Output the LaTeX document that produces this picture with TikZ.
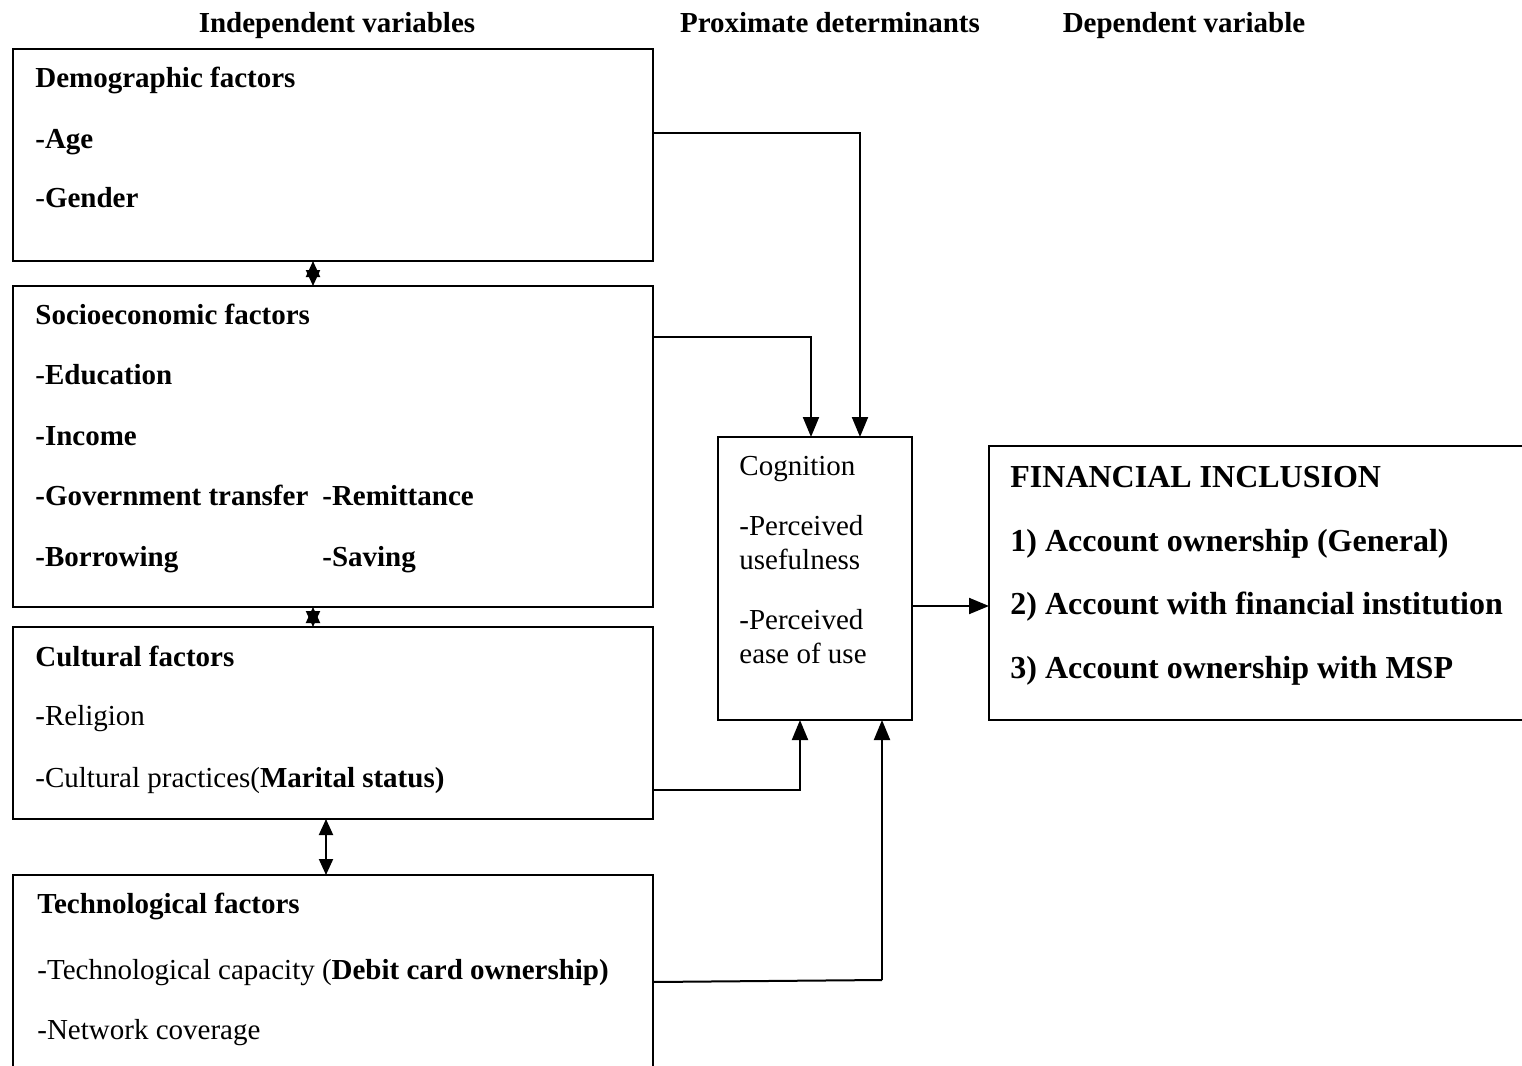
\documentclass[tikz,border=0pt]{standalone}
\usepackage{fontspec}
\setmainfont{Liberation Serif}
\usetikzlibrary{arrows.meta}
\begin{document}
\begin{tikzpicture}[x=0.5pt,y=-0.5pt,
  box/.style={draw, line width=1pt, inner sep=0pt, outer sep=0pt, anchor=north west},
  openbox/.style={inner sep=0pt, outer sep=0pt, anchor=north west},
  txt/.style={anchor=base west, inner sep=0pt, font=\fontsize{14.5}{17}\selectfont},
  bigtxt/.style={anchor=base west, inner sep=0pt, font=\fontsize{16}{19}\selectfont\bfseries},
  hdr/.style={anchor=base, inner sep=0pt, font=\fontsize{14.5}{17}\selectfont\bfseries},
  arr/.style={line width=1pt, -{Triangle[length=10pt,width=8pt]}},
  dbl/.style={line width=1pt, {Triangle[length=8pt,width=7pt]}-{Triangle[length=8pt,width=7pt]}}
]
\useasboundingbox (0,0) rectangle (1522,1066);
% headers
\node[hdr] (h1) at (337,32) {Independent variables};
\node[hdr] (h2) at (830,32) {Proximate determinants};
\node[hdr] (h3) at (1184,32) {Dependent variable};
% boxes
\node[box, minimum width=320pt, minimum height=106pt] (demo) at (13,49) {};
\node[box, minimum width=320pt, minimum height=160.5pt] (socio) at (13,286) {};
\node[box, minimum width=320pt, minimum height=96pt] (cult) at (13,627) {};
\node[openbox, minimum width=320pt, minimum height=96pt] (tech) at (13,875) {};
\draw[line width=1pt] (tech.south west) -- (tech.north west) -- (tech.north east) -- (tech.south east);
\node[box, minimum width=97pt, minimum height=141.5pt] (cog) at (718,437) {};
\node[openbox, minimum width=267pt, minimum height=137pt] (fin) at (989,446) {};
\draw[line width=1pt] (fin.north east) -- (fin.north west) -- (fin.south west) -- (fin.south east);
% demographic text
\node[txt] (d1) at (35,87) {\textbf{Demographic factors}};
\node[txt] (d2) at (35,148) {\textbf{-Age}};
\node[txt] (d3) at (35,207) {-\textbf{Gender}};
% socioeconomic text
\node[txt] (s1) at (35,324) {\textbf{Socioeconomic factors}};
\node[txt] (s2) at (35,384) {-\textbf{Education}};
\node[txt] (s3) at (35,445) {\textbf{-Income}};
\node[txt] (s4) at (35,505) {\textbf{-Government transfer}};
\node[txt] (s5) at (322,505) {\textbf{-Remittance}};
\node[txt] (s6) at (35,566) {\textbf{-Borrowing}};
\node[txt] (s7) at (322,566) {\textbf{-Saving}};
% cultural text
\node[txt] (c1) at (35,666) {\textbf{Cultural factors}};
\node[txt] (c2) at (35,725) {-Religion};
\node[txt] (c3) at (35,787) {-Cultural practices(\textbf{Marital status)}};
% technological text
\node[txt] (t1) at (37,913) {\textbf{Technological factors}};
\node[txt] (t2) at (37,979) {-Technological capacity (\textbf{Debit card ownership)}};
\node[txt] (t3) at (37,1039) {-Network coverage};
% cognition text
\node[txt] (g1) at (739,475) {Cognition};
\node[txt] (g2) at (739,535) {-Perceived};
\node[txt] (g3) at (739,569) {usefulness};
\node[txt] (g4) at (739,629) {-Perceived};
\node[txt] (g5) at (739,663) {ease of use};
% financial text
\node[bigtxt] (f1) at (1010,487) {FINANCIAL INCLUSION};
\node[bigtxt] (f2) at (1010,551) {1) Account ownership (General)};
\node[bigtxt] (f3) at (1010,614) {2) Account with financial institution};
\node[bigtxt] (f4) at (1010,678) {3) Account ownership with MSP};
% connectors
\draw[arr] (demo.east |- 0,133) -| (cog.north -| 860,0);
\draw[arr] (socio.east |- 0,337) -| (cog.north -| 811,0);
\draw[arr] (cult.east |- 0,790) -| (cog.south -| 800,0);
\coordinate (tb) at (882,980);
\draw[line width=1pt] (tech.east |- 0,982) -- (tb);
\draw[arr] (tb) -- (cog.south -| 882,0);
\draw[arr] (cog.east |- 0,606) -- (fin.west |- 0,606);
% double arrows between boxes
\draw[dbl] (demo.south -| 313,0) -- (socio.north -| 313,0);
\draw[dbl] (socio.south -| 313,0) -- (cult.north -| 313,0);
\draw[dbl] (cult.south -| 326,0) -- (tech.north -| 326,0);
\end{tikzpicture}
\end{document}
